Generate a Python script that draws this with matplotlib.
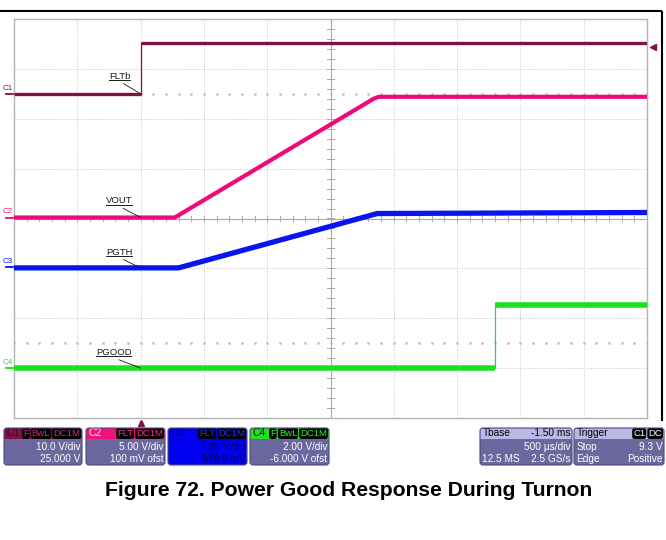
import numpy as np
import matplotlib
matplotlib.use("Agg")
import matplotlib.pyplot as plt
import matplotlib.transforms as mtransforms
import matplotlib.text as mtext
from matplotlib.lines import Line2D
from matplotlib.patches import FancyBboxPatch, Rectangle

plt.rcParams['font.family'] = ['Liberation Sans', 'DejaVu Sans']

# ---- acquisition settings ----
t_left_ms = -1.0          # screen left edge relative to trigger
ms_per_div = 0.5          # 500 us/div
n_xdiv = 10
n_ydiv = 8

ch_names = ['C1', 'C2', 'C3', 'C4']
ch_volts_per_div = [10.0, 5.0, 1.0, 2.0]
ch_offset_v = [25.0, 0.1, -0.97, -6.0]
ch_colors = ['#7f1146', '#ee0a78', '#0a14f0', '#1ee01e']
ch_trace_lw = [2.4, 3.0, 3.8, 4.0]
trace_labels = ['FLTb', 'VOUT', 'PGTH', 'PGOOD']

# ---- waveforms: time (ms from trigger), volts ----
fltb_t = [-1.0, 0.0, 0.0, 4.0]
fltb_v = [0.0, 0.0, 10.2, 10.2]
vout_t = [-1.0, 0.27, 1.84, 1.88, 4.0]
vout_v = [0.0, 0.0, 11.9, 12.1, 12.1]
pgth_t = [-1.0, 0.30, 1.87, 4.0]
pgth_v = [-0.02, -0.02, 1.07, 1.09]
pgood_t = [-1.0, 2.80, 2.80, 4.0]
pgood_v = [0.0, 0.0, 2.52, 2.52]

trigger_level_v = 9.3
trigger_time_ms = 0.0

# ---- readout panel texts ----
ch_scale_text = ['10.0 V/div', '5.00 V/div', '1.00 V/div', '2.00 V/div']
ch_offset_text = ['25.000 V', '100 mV ofst', '-970.0 mV', '-6.000 V ofst']
ch_badges = [['F', 'BwL', 'DC1M'], ['FLT', 'DC1M'], ['FLT', 'DC1M'], ['F', 'BwL', 'DC1M']]
tbase_rows = [('Tbase', '-1.50 ms'), ('', '500 µs/div'), ('12.5 MS', '2.5 GS/s')]
trig_rows = [('Trigger', ''), ('Stop', '9.3 V'), ('Edge', 'Positive')]
trig_badges = ['C1', 'DC']

caption = 'Figure 72. Power Good Response During Turnon'


def to_div(v, ch):
    return (np.asarray(v, dtype=float) + ch_offset_v[ch]) / ch_volts_per_div[ch]


W, H = 666, 540
fig = plt.figure(figsize=(W / 100, H / 100), dpi=100)
fig.patch.set_facecolor('white')

# scope graticule area
gx0, gy0, gx1, gy1 = 14, 19, 647, 418
ax = fig.add_axes([gx0 / W, 1 - gy1 / H, (gx1 - gx0) / W, (gy1 - gy0) / H])
t_right = t_left_ms + n_xdiv * ms_per_div
ax.set_xlim(t_left_ms, t_right)
ax.set_ylim(-n_ydiv / 2, n_ydiv / 2)
ax.set_xticks([])
ax.set_yticks([])
for s in ax.spines.values():
    s.set_color('#b4b4b4')
    s.set_linewidth(1.0)

grid_kw = dict(color='#c4c4c4', lw=0.7, ls=(0, (1, 1.6)), zorder=1)
center_kw = dict(color='#a8a8a8', lw=0.8, zorder=1)
for k in range(1, n_xdiv):
    x = t_left_ms + k * ms_per_div
    ax.axvline(x, **(center_kw if k == n_xdiv // 2 else grid_kw))
for j in range(-n_ydiv // 2 + 1, n_ydiv // 2):
    ax.axhline(j, **(center_kw if j == 0 else grid_kw))

# minor ticks on the centre cross
x_mid = t_left_ms + n_xdiv // 2 * ms_per_div
for x in np.arange(t_left_ms, t_right + 1e-9, ms_per_div / 5):
    ax.plot([x, x], [-0.06, 0.06], color='#a8a8a8', lw=0.7, zorder=1)
for y in np.arange(-n_ydiv / 2, n_ydiv / 2 + 1e-9, 0.2):
    ax.plot([x_mid - 0.024, x_mid + 0.024], [y, y], color='#a8a8a8', lw=0.7, zorder=1)
# half-division dotted rows
dots_x = np.arange(t_left_ms, t_right + 1e-9, ms_per_div / 5)
for y in (2.5, -2.5):
    ax.plot(dots_x, np.full_like(dots_x, y), ls='none', marker='s', ms=0.8,
            color='#bcbcbc', zorder=1)


def draw_trace(t, v, ch):
    t = np.asarray(t, dtype=float)
    y = to_div(v, ch)
    c = ch_colors[ch]
    lw = ch_trace_lw[ch]
    start = 0
    for i in range(1, len(t)):
        if t[i] == t[i - 1]:
            ax.plot(t[i - 1:i + 1], y[i - 1:i + 1], color=c, lw=0.9, zorder=3)
            ax.plot(t[start:i], y[start:i], color=c, lw=lw, zorder=4,
                    solid_capstyle='butt', solid_joinstyle='round')
            start = i
    ax.plot(t[start:], y[start:], color=c, lw=lw, zorder=4,
            solid_capstyle='butt', solid_joinstyle='round')


draw_trace(fltb_t, fltb_v, 0)
draw_trace(vout_t, vout_v, 1)
draw_trace(pgth_t, pgth_v, 2)
draw_trace(pgood_t, pgood_v, 3)

# trace name tags with underline and leader line
tag_levels = [fltb_v[0], vout_v[0], pgth_v[0], pgood_v[0]]
tag_offsets = [(-15, 9.4), (-15.5, 8.7), (-15.5, 8.0), (-19.4, 8.0)]
tag_artists = []
for ch, (lab, lev, off) in enumerate(zip(trace_labels, tag_levels, tag_offsets)):
    a = ax.annotate(lab, xy=(trigger_time_ms, float(to_div(lev, ch))), xytext=off,
                    textcoords='offset points', ha='center', va='bottom',
                    fontsize=6.8, color='#1a1a1a', zorder=6,
                    arrowprops=dict(arrowstyle='-', color='#1a1a1a', lw=0.6,
                                    shrinkA=0, shrinkB=0, relpos=(0.45, 0.0)))
    tag_artists.append(a)

# channel ground markers on the left edge
ytrans = mtransforms.blended_transform_factory(ax.transAxes, ax.transData)
for ch, name in enumerate(ch_names):
    g = float(to_div(0.0, ch))
    ax.plot([-8 / (gx1 - gx0), 0], [g, g], color=ch_colors[ch], lw=1.3,
            transform=ytrans, clip_on=False)
    ax.annotate(name, xy=(0, g), xycoords=ytrans, xytext=(-8, 1.6),
                textcoords='offset points', ha='left', va='bottom',
                fontsize=5.8, color=ch_colors[ch], annotation_clip=False)

# trigger level and trigger position markers
ax.plot([1 + 6 / (gx1 - gx0)], [float(to_div(trigger_level_v, 0))], marker='<',
        ms=5, color=ch_colors[0], transform=ytrans, clip_on=False)
ax.plot([trigger_time_ms], [-5 / (gy1 - gy0)], marker='^', ms=5,
        color=ch_colors[0], transform=ax.get_xaxis_transform(), clip_on=False)

# underline each tag once the layout is known (display coordinates)
fig.canvas.draw()
renderer = fig.canvas.get_renderer()
for a in tag_artists:
    a.update_positions(renderer)
    ext = mtext.Text.get_window_extent(a, renderer)
    yline = ext.y0 + 0.6
    fig.add_artist(Line2D([ext.x0, ext.x1], [yline, yline], color='#1a1a1a', lw=0.7,
                          transform=mtransforms.IdentityTransform()))

# ---- overlay in pixel coordinates for frame and readouts ----
ov = fig.add_axes([0, 0, 1, 1])
ov.set_xlim(0, W)
ov.set_ylim(H, 0)
ov.axis('off')
ov.patch.set_visible(False)

ov.plot([0, 661.5], [10.5, 10.5], color='black', lw=1.5, solid_capstyle='butt')
ov.plot([661.5, 661.5], [10.5, 421], color='black', lw=1.5, solid_capstyle='butt')

BODY = '#6b679f'
EDGE = '#4c4a80'
LAV = '#bab8e4'
py0, py1, hy1 = 428, 465, 438.5


def box(x0, x1, head, body):
    w = x1 - x0
    ov.add_patch(FancyBboxPatch((x0, py0), w, py1 - py0,
                                boxstyle='round,pad=0,rounding_size=3',
                                fc=body, ec='none', zorder=2))
    ov.add_patch(FancyBboxPatch((x0, py0), w, hy1 - py0 + 2,
                                boxstyle='round,pad=0,rounding_size=3',
                                fc=head, ec='none', zorder=3))
    ov.add_patch(Rectangle((x0, hy1), w, 3, fc=body, ec='none', zorder=3))
    ov.add_patch(FancyBboxPatch((x0, py0), w, py1 - py0,
                                boxstyle='round,pad=0,rounding_size=3',
                                fc='none', ec=EDGE, lw=0.8, zorder=6))


def badges_right(x1, badges, fg):
    xr = x1 - 2
    for b in reversed(badges):
        t = ov.text(xr, 433.5, b, ha='right', va='center', fontsize=6.8,
                    color=fg, zorder=5,
                    bbox=dict(boxstyle='round,pad=0.1,rounding_size=0.25',
                              fc='black', ec='none'))
        xr -= t.get_window_extent(renderer).width + 3.0


panel_x = [(4, 82), (86, 165), (168, 247), (250, 329)]
head_cols = ['#7f1146', '#f0127a', '#0000f0', '#22e022']
body_cols = [BODY, BODY, '#0000f0', BODY]
name_cols = ['#3a0620', '#ffe0ef', '#000070', '#002000']
badge_cols = ['#c0306a', '#ff2a8c', '#2030ff', '#30f030']
row_cols = ['white', 'white', '#000048', 'white']
for i in range(4):
    x0, x1 = panel_x[i]
    box(x0, x1, head_cols[i], body_cols[i])
    ov.text(x0 + 2.5, 433.5, ch_names[i], ha='left', va='center', fontsize=7.5,
            color=name_cols[i], zorder=5)
    badges_right(x1, ch_badges[i], badge_cols[i])
    ov.text(x1 - 1.5, 446.5, ch_scale_text[i], ha='right', va='center',
            fontsize=7.2, color=row_cols[i], zorder=5)
    ov.text(x1 - 1.5, 458.5, ch_offset_text[i], ha='right', va='center',
            fontsize=7.2, color=row_cols[i], zorder=5)


def info_panel(x0, x1, rows, badges):
    box(x0, x1, LAV, BODY)
    ys = [433.5, 446.5, 458.5]
    for r, ((left, right), y) in enumerate(zip(rows, ys)):
        col = 'black' if r == 0 else 'white'
        if left:
            ov.text(x0 + 2.5, y, left, ha='left', va='center', fontsize=7.3,
                    color=col, zorder=5)
        if right:
            ov.text(x1 - 1.5, y, right, ha='right', va='center', fontsize=7.3,
                    color=col, zorder=5)
    badges_right(x1, badges, 'white')


info_panel(480, 572, tbase_rows, [])
info_panel(574, 664, trig_rows, trig_badges)

fig.text(348.5 / W, 1 - 496 / H, caption, ha='center', va='baseline',
         fontsize=15.2, fontweight='bold', color='black')

fig.savefig('out.png', dpi=100)
